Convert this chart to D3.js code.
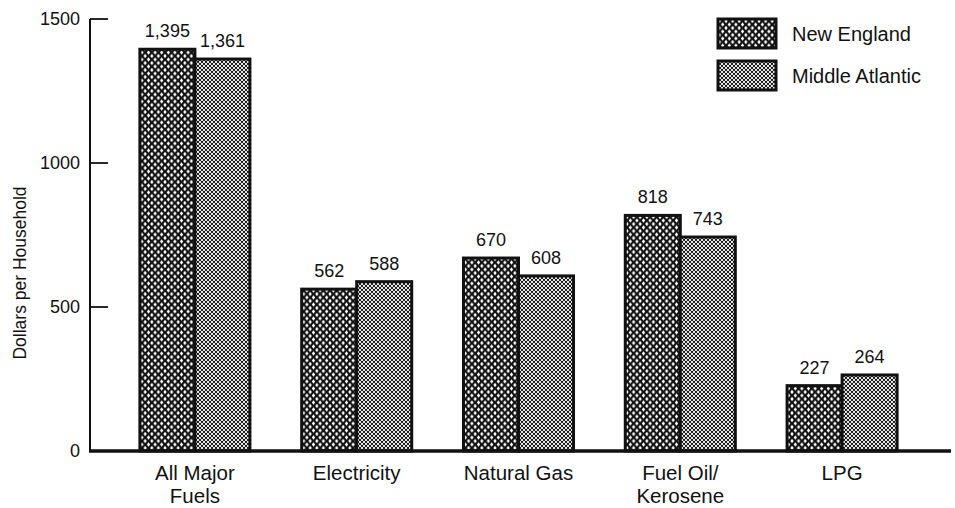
<!DOCTYPE html>
<html>
<head>
<meta charset="utf-8">
<script src="https://cdn.jsdelivr.net/npm/d3@7"></script>
<style>
  html, body { margin: 0; padding: 0; background: #fff; }
  text { font-family: "Liberation Sans", Arial, sans-serif; fill: #111; }
</style>
</head>
<body>
<svg id="chart" width="955" height="508"></svg>
<script>
const categories = [["All Major", "Fuels"], ["Electricity"], ["Natural Gas"], ["Fuel Oil/", "Kerosene"], ["LPG"]];
const seriesNames = ["New England", "Middle Atlantic"];
const newEngland = [1395, 562, 670, 818, 227];
const middleAtlantic = [1361, 588, 608, 743, 264];
const valueLabels = [["1,395", "562", "670", "818", "227"], ["1,361", "588", "608", "743", "264"]];
const yTicks = [0, 500, 1000, 1500];

const svg = d3.select("#chart");
const defs = svg.append("defs");

// New England: black with white diamond holes
const p1 = defs.append("pattern").attr("id", "patNE").attr("patternUnits", "userSpaceOnUse")
  .attr("width", 6.6).attr("height", 7);
p1.append("rect").attr("width", 6.6).attr("height", 7).attr("fill", "#111");
[[0,0],[6.6,0],[0,7],[6.6,7],[3.3,3.5]].forEach(([cx, cy]) => {
  p1.append("path").attr("d", `M${cx},${cy-2.3} L${cx+1.6},${cy} L${cx},${cy+2.3} L${cx-1.6},${cy} Z`).attr("fill", "#fff");
});

// Middle Atlantic: fine dot halftone
const p2 = defs.append("pattern").attr("id", "patMA").attr("patternUnits", "userSpaceOnUse")
  .attr("width", 4).attr("height", 4);
p2.append("rect").attr("width", 4).attr("height", 4).attr("fill", "#fff");
[[0,0],[4,0],[0,4],[4,4],[2,2]].forEach(([cx, cy]) => {
  p2.append("circle").attr("cx", cx).attr("cy", cy).attr("r", 1.15).attr("fill", "#111");
});
const fills = ["url(#patNE)", "url(#patMA)"];

const x0 = d3.scaleBand().domain(d3.range(categories.length)).range([114, 923])
  .paddingInner(0.32).paddingOuter(0.16);
const x1 = d3.scaleBand().domain([0, 1]).range([0, x0.bandwidth()]);
const y = d3.scaleLinear().domain([0, 1500]).range([451, 19]);

// y axis line
svg.append("line").attr("x1", 90).attr("x2", 90).attr("y1", y(1500)).attr("y2", y(0))
  .attr("stroke", "#111").attr("stroke-width", 2);
// ticks
yTicks.forEach(t => {
  if (t > 0) {
    svg.append("line").attr("x1", 90).attr("x2", 108).attr("y1", y(t)).attr("y2", y(t))
      .attr("stroke", "#111").attr("stroke-width", 1.8);
  }
  svg.append("text").attr("x", 80).attr("y", y(t)).attr("dy", "0.35em")
    .attr("text-anchor", "end").attr("font-size", 18).text(t);
});

// y title
svg.append("text").attr("transform", `translate(26,273) rotate(-90)`)
  .attr("text-anchor", "middle").attr("font-size", 17.5).text("Dollars per Household");

const series = [newEngland, middleAtlantic];
series.forEach((vals, s) => {
  const g = svg.append("g");
  g.selectAll("rect").data(vals).join("rect")
    .attr("x", (d, i) => x0(i) + x1(s))
    .attr("width", x1.bandwidth())
    .attr("y", d => y(d))
    .attr("height", d => y(0) - y(d))
    .attr("fill", fills[s])
    .attr("stroke", "#111").attr("stroke-width", 3);
  g.selectAll("text").data(vals).join("text")
    .attr("x", (d, i) => x0(i) + x1(s) + x1.bandwidth() / 2)
    .attr("y", d => y(d) - 12)
    .attr("text-anchor", "middle").attr("font-size", 18)
    .text((d, i) => valueLabels[s][i]);
});

// baseline
svg.append("line").attr("x1", 89).attr("x2", 951).attr("y1", y(0)).attr("y2", y(0))
  .attr("stroke", "#111").attr("stroke-width", 3.5);

// category labels
categories.forEach((lines, i) => {
  const cx = x0(i) + x0.bandwidth() / 2;
  const t = svg.append("text").attr("x", cx).attr("y", 480)
    .attr("text-anchor", "middle").attr("font-size", 20.5);
  lines.forEach((ln, j) => t.append("tspan").attr("x", cx)
    .attr("dy", j === 0 ? 0 : 23).text(ln));
});

// legend
seriesNames.forEach((name, s) => {
  const ly = 19 + s * 42;
  svg.append("rect").attr("x", 718).attr("y", ly).attr("width", 58).attr("height", 29)
    .attr("fill", fills[s]).attr("stroke", "#111").attr("stroke-width", 3);
  svg.append("text").attr("x", 792).attr("y", ly + 14.5).attr("dy", "0.35em")
    .attr("font-size", 20).text(name);
});
</script>
</body>
</html>
